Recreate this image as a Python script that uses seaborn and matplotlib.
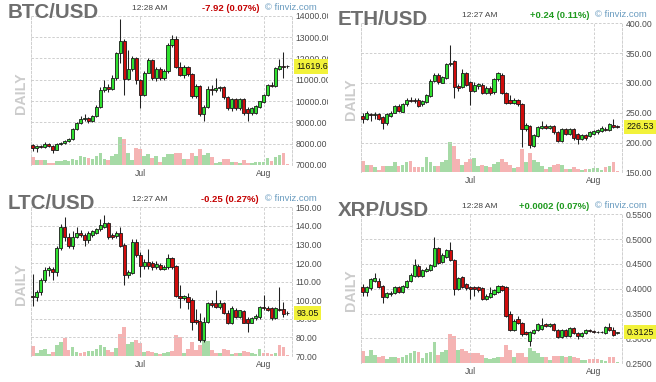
import matplotlib
matplotlib.use("Agg")
import matplotlib.pyplot as plt
import matplotlib.transforms as mtransforms
from matplotlib.ticker import FormatStrFormatter
import numpy as np
import pandas as pd
import seaborn as sns

# daily candles, 2019-06-04 .. 2019-08-07
days = pd.date_range("2019-06-04", "2019-08-07", freq="D")

btc_open = [7960, 7780, 7880, 7850, 7990, 7900, 7700, 7990, 8050, 8120,
            8200, 8700, 8950, 9150, 9200, 9080, 9300, 9700, 10500, 10650,
            10550, 11100, 12250, 12800, 11050, 11480, 12000, 11000, 10300, 11330,
            11900, 11100, 11480, 11100, 11400, 12620, 12930, 11600, 11200, 11600,
            11250, 10220, 10700, 9400, 9720, 10580, 10500, 10600, 10650, 10170,
            9650, 10100, 9650, 10100, 9620, 9420, 9420, 9700, 9950, 10300,
            10750, 10700, 11500, 11650, 11640]
btc_high = [8000, 7950, 7920, 8100, 8050, 7950, 8050, 8100, 8150, 8250,
            8750, 9000, 9300, 9400, 9250, 9350, 9800, 10650, 11000, 10800,
            11200, 12300, 13850, 12900, 12400, 12100, 12050, 11050, 11400, 12000,
            11950, 11600, 11600, 11500, 12700, 13100, 13050, 11850, 11700, 11650,
            11300, 10800, 10750, 9800, 10700, 10750, 11060, 10700, 10700, 10250,
            10150, 10150, 10150, 10150, 9700, 9700, 9800, 10000, 10350, 10800,
            10900, 11600, 11950, 12300, 11680]
btc_low = [7650, 7600, 7800, 7820, 7850, 7550, 7680, 7950, 8000, 8080,
           8150, 8650, 8900, 9050, 8950, 9000, 9250, 9650, 10400, 10400,
           10500, 11000, 11800, 10300, 11000, 11400, 10800, 9650, 10250, 11300,
           11000, 10950, 11000, 11000, 11300, 12550, 11550, 11150, 11100, 11150,
           10150, 10150, 9300, 9050, 9650, 10300, 10400, 10450, 10100, 9600,
           9550, 9600, 9600, 9350, 9080, 9350, 9380, 9650, 9900, 10250,
           10650, 10650, 11450, 11100, 11550]
btc_close = [7780, 7880, 7850, 7990, 7900, 7700, 7990, 8050, 8120, 8200,
             8700, 8950, 9150, 9200, 9080, 9300, 9700, 10500, 10650, 10550,
             11100, 12250, 12800, 11050, 11480, 12000, 11000, 10300, 11330, 11900,
             11100, 11480, 11100, 11400, 12620, 12930, 11600, 11200, 11600, 11250,
             10220, 10700, 9400, 9720, 10580, 10500, 10600, 10650, 10170, 9650,
             10100, 9650, 10100, 9420, 9420, 9650, 9750, 9980, 10300, 10750,
             10700, 11550, 11640, 11600, 11619.6]
btc_vol = [25, 15, 15, 15, 7, 7, 12, 13, 15, 13, 17, 15, 27, 25, 20, 17, 27, 35, 17, 15,
           27, 33, 85, 77, 35, 15, 50, 47, 27, 33, 20, 27, 10, 23, 33, 33, 37, 37, 17, 17,
           35, 27, 48, 30, 35, 25, 7, 10, 18, 18, 10, 10, 7, 15, 7, 7, 10, 10, 10, 20,
           13, 25, 30, 37, 3]

eth_open = [245, 240, 248, 246, 248, 242, 232, 244, 250, 261,
            252, 264, 272, 271, 272, 264, 268, 278, 303, 314,
            300, 308, 331, 336, 295, 293, 317, 301, 286, 295,
            297, 283, 292, 284, 306, 314, 283, 272, 267, 271,
            264, 222, 228, 194, 211, 225, 228, 225, 227, 218,
            203, 223, 214, 223, 214, 206, 212, 211, 214, 217,
            219, 223, 221, 229, 227]
eth_high = [249, 253, 250, 252, 250, 244, 249, 253, 263, 264,
            267, 275, 276, 274, 274, 271, 282, 306, 317, 316,
            312, 333, 364, 338, 298, 323, 319, 303, 301, 300,
            299, 294, 294, 309, 319, 316, 285, 280, 274, 273,
            266, 232, 230, 215, 228, 236, 231, 230, 229, 220,
            225, 225, 225, 225, 216, 214, 214, 219, 221, 223,
            227, 226, 233, 240, 229]
eth_low = [233, 238, 236, 240, 238, 223, 230, 242, 249, 251,
           251, 262, 268, 266, 259, 262, 266, 277, 301, 298,
           299, 306, 328, 275, 287, 291, 294, 263, 284, 290,
           281, 281, 280, 282, 304, 281, 264, 265, 265, 262,
           192, 220, 190, 192, 209, 222, 223, 223, 215, 201,
           201, 212, 212, 205, 197, 204, 205, 209, 212, 215,
           217, 219, 219, 224, 225]
eth_close = [240, 249, 246, 247, 240, 232, 247, 250, 261, 253,
             265, 272, 270, 269, 262, 269, 280, 304, 314, 301,
             310, 331, 334, 293, 292, 317, 296, 286, 297, 298,
             283, 292, 283, 307, 316, 283, 267, 267, 272, 264,
             223, 229, 196, 212, 226, 228, 225, 228, 217, 203,
             223, 214, 223, 207, 206, 212, 207, 217, 219, 221,
             225, 221, 231, 226, 226.53]
eth_vol = [35, 23, 22, 17, 8, 20, 20, 20, 30, 20, 22, 30, 34, 17, 15, 17, 45, 32, 20, 18,
           30, 37, 90, 80, 40, 22, 30, 40, 42, 20, 22, 20, 15, 25, 30, 40, 32, 22, 12, 15,
           70, 32, 58, 38, 30, 20, 10, 15, 23, 25, 22, 10, 10, 15, 10, 8, 10, 10, 12, 12,
           8, 15, 20, 32, 3]

ltc_open = [102.5, 101.6, 104.6, 111, 116.3, 117, 115.4, 128, 139.2, 134.2,
            129.2, 134.2, 136.4, 135.1, 132.4, 135, 136.4, 138.2, 139.6, 141.4,
            135.1, 134.6, 136, 129.7, 113.6, 114.8, 131.5, 124.4, 118.4, 120.8,
            119.9, 117.7, 119, 116.6, 117.7, 122.6, 118.4, 102.3, 101, 101.9,
            100.1, 89.5, 89, 78.6, 88.5, 98.7, 98.7, 96.5, 98.3, 93.3,
            87.6, 94.8, 91.2, 94.4, 89.7, 88, 90.3, 90.8, 96.3, 95.8,
            95.7, 90.3, 95.5, 95.1, 93.3]
ltc_high = [114, 105.5, 112, 118, 118.5, 118, 129, 141, 145, 136,
            137, 139.6, 138, 136, 137, 138, 139, 143.5, 145.9, 142,
            136, 137.5, 139.6, 131, 116.5, 133, 133, 126, 122, 127.5,
            121, 121, 120, 119, 125, 123, 119, 108, 103, 104,
            101, 95.5, 93, 91, 99, 100, 105.5, 100, 99, 95,
            97, 96, 95, 95, 91, 91, 92.5, 97, 102.8, 97,
            96.5, 96.5, 107.3, 99, 94]
ltc_low = [97, 99.5, 103, 110, 113, 111, 113, 127, 132, 128,
           127.5, 133.5, 134, 129, 131, 134, 135.5, 137, 139, 133,
           133, 133.5, 128.5, 108.2, 112, 114, 123, 112.3, 117, 117,
           116.5, 117, 116, 116, 117, 117, 102, 96, 100, 95.5,
           84, 87, 77.5, 77.5, 88, 96.5, 96, 95.5, 92.5, 87,
           87, 90.5, 90.5, 87.5, 83, 87.5, 89.5, 90, 95, 94,
           89.5, 90, 94, 91, 92.3]
ltc_close = [102, 104.6, 111, 116.3, 117.2, 115.4, 128, 139.2, 134.2, 129.2,
             134.2, 136.4, 135.1, 132.4, 136.4, 137, 138.2, 140.5, 141.4, 133.9,
             134.2, 136, 129.2, 113.6, 115.4, 131.5, 124.4, 118.4, 120.8, 118.4,
             117.7, 119.5, 116.6, 117.9, 122.6, 118, 102.3, 101, 102.3, 99.2,
             88.5, 88.5, 78.6, 88.5, 98.3, 97.4, 96.5, 98.5, 93, 87.6,
             95.7, 91.2, 94.5, 87.9, 88, 90.3, 91.5, 96.2, 95.8, 94.5,
             90.3, 95.7, 94.8, 92.6, 93.05]
ltc_vol = [30, 8, 18, 22, 6, 13, 33, 43, 53, 18, 26, 13, 10, 11, 16, 14, 20, 32, 28, 18,
           13, 23, 66, 86, 36, 43, 48, 38, 13, 15, 13, 8, 6, 10, 13, 15, 63, 58, 10, 20,
           43, 18, 33, 46, 46, 18, 8, 10, 20, 18, 6, 8, 10, 16, 13, 10, 5, 20, 10, 8,
           6, 8, 33, 26, 3]

xrp_open = [0.403, 0.394, 0.401, 0.416, 0.416, 0.406, 0.384, 0.389, 0.391, 0.404,
            0.394, 0.404, 0.416, 0.426, 0.446, 0.426, 0.436, 0.438, 0.446, 0.482,
            0.453, 0.465, 0.478, 0.458, 0.399, 0.423, 0.410, 0.404, 0.403, 0.403,
            0.401, 0.379, 0.384, 0.390, 0.394, 0.406, 0.404, 0.350, 0.318, 0.339,
            0.332, 0.314, 0.294, 0.312, 0.317, 0.320, 0.329, 0.325, 0.329, 0.318,
            0.302, 0.317, 0.305, 0.322, 0.312, 0.304, 0.311, 0.317, 0.315, 0.314,
            0.313, 0.312, 0.323, 0.318, 0.3115]
xrp_high = [0.410, 0.405, 0.421, 0.431, 0.421, 0.408, 0.394, 0.396, 0.406, 0.406,
            0.407, 0.418, 0.431, 0.461, 0.449, 0.440, 0.443, 0.450, 0.504, 0.485,
            0.472, 0.481, 0.495, 0.460, 0.424, 0.425, 0.412, 0.406, 0.405, 0.405,
            0.403, 0.389, 0.404, 0.400, 0.408, 0.408, 0.406, 0.355, 0.339, 0.345,
            0.334, 0.316, 0.316, 0.320, 0.332, 0.341, 0.331, 0.331, 0.331, 0.320,
            0.319, 0.319, 0.324, 0.324, 0.314, 0.313, 0.320, 0.319, 0.317, 0.315,
            0.315, 0.325, 0.331, 0.324, 0.3135]
xrp_low = [0.386, 0.386, 0.398, 0.414, 0.401, 0.371, 0.382, 0.386, 0.389, 0.392,
           0.391, 0.402, 0.414, 0.424, 0.423, 0.424, 0.433, 0.435, 0.444, 0.449,
           0.451, 0.462, 0.455, 0.388, 0.397, 0.401, 0.398, 0.380, 0.385, 0.394,
           0.377, 0.377, 0.382, 0.388, 0.392, 0.396, 0.343, 0.315, 0.316, 0.329,
           0.305, 0.306, 0.284, 0.310, 0.315, 0.318, 0.323, 0.323, 0.315, 0.300,
           0.300, 0.303, 0.303, 0.309, 0.298, 0.302, 0.309, 0.313, 0.312, 0.311,
           0.311, 0.310, 0.316, 0.305, 0.310]
xrp_close = [0.394, 0.403, 0.419, 0.421, 0.404, 0.384, 0.392, 0.392, 0.404, 0.394,
             0.405, 0.416, 0.428, 0.448, 0.426, 0.438, 0.440, 0.448, 0.482, 0.451,
             0.468, 0.478, 0.457, 0.399, 0.421, 0.404, 0.401, 0.399, 0.399, 0.397,
             0.379, 0.386, 0.391, 0.398, 0.406, 0.398, 0.345, 0.317, 0.336, 0.331,
             0.309, 0.309, 0.314, 0.318, 0.330, 0.327, 0.325, 0.329, 0.317, 0.302,
             0.317, 0.305, 0.322, 0.311, 0.305, 0.311, 0.318, 0.315, 0.314, 0.313,
             0.313, 0.323, 0.318, 0.307, 0.3125]
xrp_vol = [37, 22, 40, 25, 18, 22, 12, 20, 18, 15, 20, 25, 32, 37, 35, 15, 30, 35, 65, 25,
           35, 40, 88, 82, 40, 42, 38, 32, 30, 30, 25, 15, 12, 15, 18, 20, 55, 40, 20, 30,
           30, 20, 45, 38, 30, 20, 18, 10, 22, 22, 22, 18, 22, 18, 15, 10, 10, 12, 12, 12,
           10, 8, 20, 18, 3]

btc_ticks = [7000, 8000, 9000, 10000, 11000, 12000, 13000, 14000]
eth_ticks = [150, 200, 250, 300, 350, 400]
ltc_ticks = [70, 80, 90, 100, 110, 120, 130, 140, 150]
xrp_ticks = [0.25, 0.30, 0.35, 0.40, 0.45, 0.50, 0.55]

W, H = 656, 382
GREEN, RED = "#2fe02f", "#d00c0c"
VGREEN, VRED = "#a6daa6", "#f5b3b3"
GRID = "#c8c8c8"

sns.set_theme(style="white")
plt.rcParams["font.family"] = ["Liberation Sans", "DejaVu Sans"]

fig = plt.figure(figsize=(W / 100, H / 100), dpi=100)
fig.patch.set_facecolor("white")
left_clip = mtransforms.TransformedBbox(
    mtransforms.Bbox.from_extents(0, 0, 328 / W, 1), fig.transFigure)


def fx(px):
    return px / W


def fy(py):
    return 1 - py / H


def panel(rect_px, o, h, l, c, vol, ticks, fmt, clip=None):
    x0, y0, x1, y1 = rect_px
    ax = fig.add_axes([fx(x0), fy(y1), (x1 - x0) / W, (y1 - y0) / H])
    axv = ax.twinx()
    o, h, l, c = map(np.asarray, (o, h, l, c))
    x = np.arange(len(days))
    up = c >= o

    # volume underneath
    vdf = pd.DataFrame({"x": x, "vol": vol, "dir": np.where(up, "up", "down")})
    sns.barplot(data=vdf, x="x", y="vol", hue="dir",
                palette={"up": VGREEN, "down": VRED}, native_scale=True,
                dodge=False, width=0.95, errorbar=None, saturation=1,
                legend=False, linewidth=0, ax=axv)
    axv.set_ylim(0, 448)
    axv.axis("off")
    ax.set_zorder(2)
    axv.set_zorder(1)
    ax.patch.set_visible(False)

    # candles
    ax.vlines(x, l, h, colors="#222222", linewidth=0.75, zorder=2)
    ax.bar(x, np.abs(c - o), bottom=np.minimum(o, c), width=0.8,
           color=np.where(up, GREEN, RED), edgecolor="#1a1a1a",
           linewidth=0.6, zorder=3)

    ax.set_xlim(-0.45, 65.15)
    ax.set_ylim(ticks[0], ticks[-1])
    ax.set_yticks(ticks)
    ax.yaxis.tick_right()
    ax.yaxis.set_major_formatter(FormatStrFormatter(fmt))
    ax.tick_params(axis="y", length=0, pad=2.5, labelsize=6.2,
                   labelcolor="#4d4d4d")
    ax.set_xticks([days.get_loc(pd.Timestamp("2019-07-01")),
                   days.get_loc(pd.Timestamp("2019-08-01"))])
    ax.set_xticklabels(["Jul", "Aug"])
    ax.tick_params(axis="x", length=0, pad=3, labelsize=6.2,
                   labelcolor="#4d4d4d")
    ax.set_xlabel("")
    ax.set_ylabel("")
    ax.grid(True, color=GRID, linestyle=(0, (3, 2)), linewidth=0.6)
    for side in ("top", "bottom"):
        ax.spines[side].set_visible(False)
    for side in ("left", "right"):
        ax.spines[side].set_color(GRID)
        ax.spines[side].set_linestyle((0, (3, 2)))
        ax.spines[side].set_linewidth(0.6)

    tr = mtransforms.blended_transform_factory(ax.transAxes, ax.transData)
    last = ax.text(1.016, c[-1], fmt % c[-1], transform=tr, ha="left",
                   va="center", fontsize=6.4, color="#111111", zorder=10,
                   bbox=dict(boxstyle="square,pad=0.3", fc="#f2f23a", ec="none"))
    if clip is not None:
        for lab in ax.get_yticklabels() + [last]:
            lab.set_clip_box(clip)
            lab.set_clip_on(True)
    return ax


def header(x, y, name, clock, change, change_color, daily_y):
    fig.text(fx(x), fy(y), name, fontsize=14.8, fontweight="bold",
             color="#6e6e6e", ha="left", va="center")
    fig.text(fx(x + 142), fy(y - 4), clock, fontsize=6, color="#444444",
             ha="center", va="center")
    fig.text(fx(x + 251), fy(y - 4), change, fontsize=6.8, fontweight="bold",
             color=change_color, ha="right", va="center")
    fig.text(fx(x + 257), fy(y - 5), "\u00a9 finviz.com", fontsize=6.8,
             color="#6a9cc0", ha="left", va="center")
    fig.text(fx(x + 12.5), fy(daily_y), "DAILY", rotation=90, fontsize=10.3,
             fontweight="bold", color="#cccccc", ha="center", va="center")


panel((31, 15.7, 292, 165), btc_open, btc_high, btc_low, btc_close, btc_vol,
      btc_ticks, "%.2f", clip=left_clip)
panel((361, 23.3, 622, 172.3), eth_open, eth_high, eth_low, eth_close, eth_vol,
      eth_ticks, "%.2f")
panel((31, 207.3, 292, 356), ltc_open, ltc_high, ltc_low, ltc_close, ltc_vol,
      ltc_ticks, "%.2f", clip=left_clip)
panel((361, 214.3, 622, 363.3), xrp_open, xrp_high, xrp_low, xrp_close, xrp_vol,
      xrp_ticks, "%.4f")

header(8, 12.5, "BTC/USD", "12:28 AM", "-7.92 (0.07%)", "#c40000", 93.5)
header(338, 19.5, "ETH/USD", "12:27 AM", "+0.24 (0.11%)", "#1f9a1f", 99)
header(8, 203.5, "LTC/USD", "12:27 AM", "-0.25 (0.27%)", "#c40000", 284)
header(338, 210.5, "XRP/USD", "12:28 AM", "+0.0002 (0.07%)", "#1f9a1f", 290.5)

fig.savefig("out.png", dpi=100)
